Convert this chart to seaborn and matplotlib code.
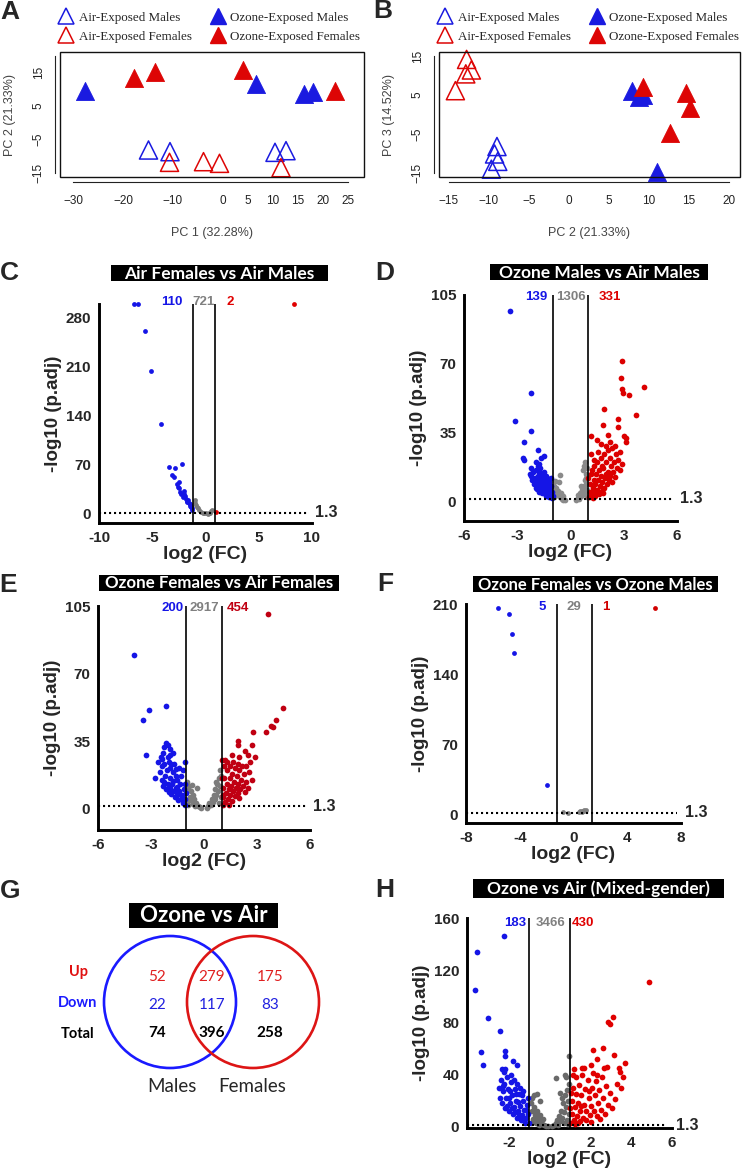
import matplotlib
matplotlib.use("Agg")
import matplotlib.pyplot as plt
from matplotlib.patches import Rectangle, Circle
from matplotlib.lines import Line2D
import seaborn as sns

sns.set_style("white")
plt.rcParams["font.family"] = ["Liberation Sans", "DejaVu Sans"]

# ---------------- PCA data (panel A: PC1 vs PC2, panel B: PC2 vs PC3) ----------------
a_air_m_x = [-14.9, -10.6, 10.4, 12.6]
a_air_m_y = [-8.2, -8.7, -8.9, -8.4]
a_air_f_x = [-10.7, -3.9, -0.7, 11.6]
a_air_f_y = [-11.9, -11.7, -12.2, -13.5]
a_oz_m_x = [-27.6, 6.6, 16.1, 17.9]
a_oz_m_y = [9.5, 11.5, 8.5, 9.3]
a_oz_f_x = [-17.8, -13.6, 3.9, 22.4]
a_oz_f_y = [13.3, 15.1, 15.7, 9.5]

b_air_m_x = [-9.0, -9.3, -8.9, -9.7]
b_air_m_y = [-8.2, -10.1, -12.0, -14.0]
b_air_f_x = [-12.8, -12.2, -12.9, -14.2]
b_air_f_y = [14.1, 11.4, 10.4, 6.1]
b_oz_m_x = [7.9, 8.8, 9.3, 11.0]
b_oz_m_y = [5.9, 4.6, 4.9, -14.7]
b_oz_f_x = [9.3, 14.7, 15.1, 12.6]
b_oz_f_y = [7.1, 5.4, 1.6, -4.8]

group_labels = ["Air-Exposed Males", "Air-Exposed Females",
                "Ozone-Exposed Males", "Ozone-Exposed Females"]

# ---------------- Volcano data: (log2FC, -log10 p.adj) ----------------
c_down = [(-6.7, 300), (-6.3, 300), (-5.65, 261), (-5.1, 204), (-4.15, 128), (-3.4, 67), (-2.9, 65),
          (-2.2, 71), (-3.1, 56), (-2.95, 53), (-2.7, 43), (-2.6, 39), (-2.45, 37), (-2.35, 32),
          (-2.0, 33), (-2.15, 24), (-1.8, 22), (-1.7, 17), (-1.5, 14), (-1.35, 10), (-1.25, 6),
          (-2.5, 45), (-2.3, 28), (-1.9, 26), (-1.6, 20), (-1.45, 12), (-1.3, 8), (-2.05, 29),
          (-1.75, 18), (-1.55, 16), (-1.4, 11)]
c_ns = [(-1.0, 20), (-0.85, 13), (-0.7, 8), (-0.4, 3), (-0.1, 1.5), (0.4, 2), (0.55, 4), (0.2, 0.5),
        (-0.95, 16), (-0.6, 5), (-0.25, 2), (0.05, 1), (0.3, 1.5), (0.65, 6), (-0.8, 10)]
c_up = [(8.3, 300), (0.95, 3)]
c_counts = [110, 721, 2]

d_down = [(-3.4, 97), (-2.2, 55), (-3.1, 41), (-2.25, 36), (-2.6, 30), (-1.85, 26), (-2.7, 22),
          (-2.6, 21), (-1.5, 23), (-1.65, 22), (-1.95, 20), (-1.8, 19), (-2.2, 13),
          (-2.1, 15), (-2.0, 12), (-1.95, 16), (-1.9, 10), (-1.85, 13), (-1.8, 8), (-1.75, 15),
          (-1.7, 11), (-1.65, 6), (-1.6, 13), (-1.55, 9), (-1.5, 4), (-1.45, 11), (-1.4, 7),
          (-1.35, 3), (-1.3, 9), (-1.25, 5), (-1.2, 2), (-1.15, 7), (-1.1, 3.5), (-1.05, 1.8),
          (-2.05, 9), (-1.9, 6.5), (-1.7, 17), (-1.6, 4.5), (-1.5, 15), (-1.4, 13), (-1.3, 12),
          (-1.2, 10), (-1.1, 8), (-1.05, 5), (-1.95, 7), (-1.8, 11.5), (-1.65, 9.5), (-1.55, 12),
          (-1.45, 5.5), (-1.35, 8), (-1.25, 7), (-1.15, 4.5), (-2.2, 17), (-2.3, 14), (-1.75, 5),
          (-1.6, 8), (-1.4, 2.5), (-1.12, 12), (-1.0, 2.5), (-2.15, 11), (-1.85, 18)]
d_ns = [(-0.6, 13.5), (-0.85, 10.5), (-0.65, 9.7), (-0.95, 8), (-0.9, 5), (-0.8, 7), (-0.75, 3),
        (-0.7, 5.5), (-0.6, 2), (-0.55, 4), (-0.5, 1), (-0.45, 2.5), (-0.4, 0.8), (-0.3, 0.5),
        (-0.95, 2), (-0.85, 3.5), (0.3, 0.5), (0.4, 1.5), (0.45, 3), (0.5, 1), (0.55, 4), (0.6, 2.5),
        (0.65, 6), (0.7, 4), (0.75, 8), (0.8, 11), (0.8, 20), (0.78, 18), (0.7, 16), (0.85, 14),
        (0.9, 9), (0.95, 6), (0.85, 3), (0.92, 17), (0.6, 8), (0.9, 12), (0.95, 2)]
d_up = [(2.9, 71.6), (2.85, 63), (2.9, 57), (2.95, 55), (3.3, 54), (4.15, 58), (3.7, 44), (1.9, 47),
        (1.85, 39), (2.65, 42), (2.7, 38), (3.0, 33), (3.15, 32), (3.1, 30), (1.15, 33), (2.1, 34),
        (2.2, 30), (2.5, 28), (2.35, 27), (1.7, 29), (2.0, 28), (1.5, 31), (2.55, 24), (2.8, 25),
        (1.05, 2), (1.1, 5), (1.1, 9), (1.15, 14), (1.2, 3), (1.25, 7), (1.3, 11), (1.3, 18),
        (1.35, 4.5), (1.4, 9), (1.45, 14), (1.5, 6), (1.5, 20), (1.55, 11), (1.6, 3.5), (1.6, 16),
        (1.65, 8), (1.7, 13), (1.7, 22), (1.75, 5.5), (1.8, 10), (1.85, 17), (1.9, 7), (1.9, 24),
        (1.95, 12), (2.0, 20), (2.05, 9), (2.1, 15), (2.15, 11), (2.2, 22), (2.25, 13), (2.3, 18),
        (2.4, 15), (2.45, 20), (2.5, 12.5), (2.6, 17), (2.7, 21), (2.8, 16), (2.9, 19), (1.2, 16),
        (1.35, 21), (1.0, 12), (1.25, 1.5), (1.4, 2.5), (1.15, 24), (1.55, 25), (1.75, 18),
        (2.0, 14), (1.85, 4.5), (2.1, 26), (2.35, 10)]
d_counts = [139, 1306, 331]

e_down = [(-3.95, 79.5), (-2.15, 53), (-3.1, 51), (-3.45, 46), (-3.3, 28), (-2.15, 34), (-2.05, 33),
          (-2.25, 32), (-1.95, 31), (-1.9, 28), (-2.3, 29), (-2.4, 26), (-2.25, 23), (-1.85, 23),
          (-1.07, 24), (-1.6, 20.5), (-2.75, 16), (-2.05, 27), (-1.75, 29),
          (-2.5, 19), (-2.4, 15), (-2.35, 22), (-2.3, 12), (-2.2, 17), (-2.15, 10), (-2.1, 20),
          (-2.05, 13), (-2.0, 8.5), (-1.95, 16), (-1.9, 11), (-1.85, 7.5), (-1.8, 13), (-1.75, 19),
          (-1.7, 9), (-1.65, 6), (-1.6, 11), (-1.55, 15), (-1.5, 7), (-1.45, 4.5), (-1.4, 9),
          (-1.35, 13), (-1.3, 5), (-1.25, 7), (-1.2, 3), (-1.15, 10), (-1.1, 5), (-1.05, 2),
          (-1.0, 8), (-1.9, 21), (-1.6, 17), (-1.3, 17), (-1.1, 13), (-1.4, 21), (-2.0, 24),
          (-1.7, 23), (-1.2, 20), (-2.6, 24), (-2.45, 27), (-1.5, 11.5), (-1.75, 14.5), (-2.25, 14)]
e_ns = [(-0.95, 14), (-0.9, 10), (-0.85, 12), (-0.8, 6), (-0.75, 9), (-0.7, 4), (-0.65, 7),
        (-0.6, 2.5), (-0.55, 5), (-0.5, 1.5), (-0.45, 3), (-0.4, 11), (-0.35, 1.5), (-0.25, 0.8),
        (-0.15, 0.5), (0.15, 0.5), (0.25, 1.2), (0.3, 3), (0.4, 2), (0.45, 5), (0.5, 3.5), (0.55, 7),
        (0.6, 5), (0.65, 10), (0.7, 7), (0.75, 13), (0.8, 9), (0.85, 16), (0.9, 12), (0.95, 17),
        (0.95, 6), (0.85, 3), (-0.95, 4), (-0.9, 2), (0.7, 14), (0.9, 20), (-0.7, 12.5)]
e_up = [(3.6, 101), (4.45, 52), (4.1, 46), (3.8, 43), (3.9, 42.5), (2.8, 39.5), (3.5, 39.5),
        (1.9, 35), (1.9, 33), (2.7, 33), (1.6, 28), (2.0, 27), (2.5, 28), (2.9, 27), (1.0, 25),
        (2.3, 30), (1.3, 24), (2.6, 24),
        (1.05, 2), (1.1, 6), (1.1, 11), (1.15, 16), (1.2, 3.5), (1.25, 8), (1.3, 13), (1.3, 20),
        (1.35, 5), (1.4, 10), (1.45, 16), (1.5, 7), (1.5, 22), (1.55, 12), (1.6, 4), (1.6, 18),
        (1.65, 9), (1.7, 14), (1.75, 6.5), (1.75, 21), (1.8, 11), (1.85, 17), (1.9, 8), (1.95, 13),
        (2.0, 20), (2.05, 10), (2.1, 15), (2.2, 12), (2.25, 18), (2.3, 8.5), (2.4, 14), (2.5, 11),
        (2.55, 19), (2.7, 15), (1.0, 16), (1.15, 22), (1.4, 1.8), (1.2, 25), (1.65, 24), (1.9, 23),
        (2.15, 22), (1.05, 7), (2.0, 5.5), (2.4, 22)]
e_counts = [200, 2917, 454]

f_down = [(-5.6, 206), (-4.8, 200), (-4.55, 180), (-4.45, 161), (-2.0, 29)]
f_ns = [(-0.75, 2), (-0.4, 1.5), (0.4, 2.5), (0.5, 3), (0.65, 3.5), (0.75, 4), (0.9, 4.5),
        (0.6, 2), (0.8, 3)]
f_up = [(6.1, 206)]
f_counts = [5, 29, 1]

h_down = [(-2.25, 146), (-3.58, 134), (-3.67, 105), (-3.05, 83), (-2.43, 73), (-3.4, 57), (-3.3, 47),
          (-2.2, 58), (-2.2, 54), (-1.8, 50), (-1.63, 47), (-2.35, 44), (-2.25, 42),
          (-2.5, 30), (-2.45, 22), (-2.4, 36), (-2.35, 18), (-2.3, 27), (-2.25, 33), (-2.2, 14),
          (-2.15, 22), (-2.1, 38), (-2.05, 29), (-2.0, 12), (-1.95, 18), (-1.9, 34), (-1.85, 24),
          (-1.8, 9.5), (-1.75, 15), (-1.7, 29), (-1.65, 20), (-1.6, 7), (-1.55, 12), (-1.5, 25),
          (-1.45, 16), (-1.4, 5), (-1.35, 9), (-1.3, 20), (-1.25, 13), (-1.2, 3), (-1.15, 7),
          (-1.1, 17), (-1.05, 10), (-1.0, 2.5), (-1.05, 22), (-1.3, 27), (-1.6, 33), (-1.9, 40),
          (-2.2, 44), (-1.45, 30), (-1.75, 36), (-2.0, 22), (-1.85, 14), (-1.5, 9), (-1.25, 5),
          (-1.7, 11), (-2.3, 31), (-1.15, 13), (-1.35, 24), (-1.55, 19), (-2.1, 16), (-1.95, 27),
          (-1.65, 25)]
h_ns = [(0.95, 54), (0.3, 37), (0.75, 40), (0.8, 38), (-0.8, 24.5), (-0.65, 25), (-0.5, 20),
        (-0.95, 18), (-0.9, 12), (-0.85, 6), (-0.8, 15), (-0.75, 9), (-0.7, 3), (-0.65, 12),
        (-0.6, 6), (-0.55, 1.5), (-0.5, 9), (-0.45, 4), (-0.4, 2), (-0.35, 6), (-0.3, 1),
        (-0.2, 0.5), (-0.1, 0.3), (-0.95, 3), (-0.9, 22), (0.1, 0.3), (0.2, 1), (0.3, 2.5),
        (0.35, 5), (0.4, 1.5), (0.45, 8), (0.5, 4), (0.55, 12), (0.6, 7), (0.65, 18), (0.7, 11),
        (0.75, 24), (0.8, 15), (0.85, 28), (0.9, 20), (0.95, 33), (0.95, 10), (0.85, 5), (0.7, 3),
        (0.6, 22), (0.9, 2), (0.5, 26)]
h_up = [(4.87, 111), (3.1, 84), (2.85, 80), (2.95, 79), (2.6, 60), (2.1, 59), (3.15, 55), (3.7, 49),
        (3.4, 45), (3.45, 42), (2.3, 52), (2.0, 47), (2.8, 46), (1.6, 45),
        (1.05, 3), (1.1, 10), (1.1, 20), (1.15, 30), (1.2, 5), (1.25, 15), (1.3, 25), (1.3, 38),
        (1.35, 8), (1.4, 18), (1.45, 32), (1.5, 4), (1.5, 12), (1.55, 24), (1.6, 40), (1.65, 7),
        (1.7, 17), (1.75, 29), (1.8, 5), (1.8, 12), (1.85, 36), (1.9, 22), (1.95, 9), (2.0, 16),
        (2.05, 30), (2.1, 41), (2.15, 12), (2.2, 24), (2.25, 35), (2.3, 8), (2.35, 18), (2.4, 28),
        (2.5, 13), (2.55, 38), (2.6, 22), (2.7, 10), (2.75, 31), (2.85, 17), (2.95, 26), (3.05, 14),
        (3.2, 21), (3.3, 33), (3.5, 30), (1.0, 14), (1.05, 26), (1.2, 44), (1.4, 2.5), (1.7, 45),
        (2.0, 3.5), (2.45, 6), (1.55, 16), (1.9, 27), (2.3, 40), (2.65, 45), (1.25, 1.8), (3.6, 38),
        (1.15, 40)]
h_counts = [183, 3466, 430]

# ---------------- Venn data (panel G) ----------------
venn_up = [52, 279, 175]
venn_down = [22, 117, 83]
venn_total = [74, 396, 258]
venn_sets = ["Males", "Females"]

# ---------------- figure ----------------
W, H = 742, 1170
fig = plt.figure(figsize=(W / 100, H / 100), dpi=100)
fig.patch.set_facecolor("white")


def add_ax(l, t, r, b):
    return fig.add_axes([l / W, 1 - b / H, (r - l) / W, (b - t) / H])


def fig_text(x, y, s, **kw):
    fig.text(x / W, 1 - y / H, s, **kw)


def title_box(l, t, r, b, s, size):
    fig.add_artist(Rectangle((l / W, 1 - b / H), (r - l) / W, (b - t) / H,
                             transform=fig.transFigure, color="black", lw=0))
    fig_text((l + r) / 2, (t + b) / 2 + 0.5, s, ha="center", va="center", color="white",
             fontsize=size, fontweight="bold", family=["Lato", "DejaVu Sans"])


BLUE = "#1515e6"
PCA_BLUE = "#1a1ae0"
PCA_RED = "#dd0505"

# panel letters
for lab, x, y in [("A", 10, 12), ("B", 383, 11), ("C", 9, 273), ("D", 385, 273),
                  ("E", 8, 585), ("F", 385, 584), ("G", 10, 891), ("H", 385, 890)]:
    fig_text(x, y, lab, ha="center", va="center", fontsize=19, fontweight="bold")


def pca_panel(ax, groups, xlim, ylim, xb, yb, xticks, xlabels, yticks, ylabels, xlabel, ylabel):
    for xs, ys, col, filled in groups:
        if filled:
            sns.scatterplot(x=xs, y=ys, ax=ax, marker="^", s=170, color=col, edgecolor=col,
                            linewidth=0.6, legend=False, clip_on=False)
        else:
            sns.scatterplot(x=xs, y=ys, ax=ax, marker="^", s=170, facecolor="none",
                            edgecolor=col, linewidth=1.1, legend=False, clip_on=False)
    ax.set_xlim(xlim)
    ax.set_ylim(ylim)
    for s in ["top", "right"]:
        ax.spines[s].set_visible(False)
    for s in ["left", "bottom"]:
        ax.spines[s].set_position(("outward", 3.6))
        ax.spines[s].set_linewidth(0.8)
        ax.spines[s].set_color("#222222")
    ax.spines["bottom"].set_bounds(*xb)
    ax.spines["left"].set_bounds(*yb)
    ax.add_patch(Rectangle((0, 0), 1, 1, transform=ax.transAxes, fill=False, lw=1.0,
                           ec="#111111", clip_on=False))
    ax.set_xticks(xticks)
    ax.set_xticklabels(xlabels)
    ax.set_yticks(yticks)
    ax.set_yticklabels(ylabels, rotation=90, va="center")
    ax.tick_params(axis="both", direction="out", length=3.5, width=0.8, labelsize=8.5,
                   colors="#222222")
    ax.tick_params(axis="x", pad=6)
    ax.tick_params(axis="y", pad=4)
    ax.set_xlabel(xlabel, fontsize=9, color="#444444", labelpad=14)
    ax.set_ylabel(ylabel, fontsize=9, color="#444444", labelpad=12)
    handles = [Line2D([], [], ls="none", marker="^", markersize=12, mfc="none", mec=PCA_BLUE, mew=1.1),
               Line2D([], [], ls="none", marker="^", markersize=12, mfc="none", mec=PCA_RED, mew=1.1),
               Line2D([], [], ls="none", marker="^", markersize=12, mfc=PCA_BLUE, mec=PCA_BLUE),
               Line2D([], [], ls="none", marker="^", markersize=12, mfc=PCA_RED, mec=PCA_RED)]
    ax.legend(handles, group_labels, ncol=2, loc="lower left",
              bbox_to_anchor=(-0.005, 1.075), frameon=False, borderpad=0, borderaxespad=0,
              handlelength=1.2, handletextpad=0.35, columnspacing=1.4, labelspacing=0.5,
              prop={"family": ["Liberation Serif", "DejaVu Serif"], "size": 9.4})


axA = add_ax(60, 52, 364, 177)
pca_panel(axA,
          [(a_air_m_x, a_air_m_y, PCA_BLUE, False), (a_air_f_x, a_air_f_y, PCA_RED, False),
           (a_oz_m_x, a_oz_m_y, PCA_BLUE, True), (a_oz_f_x, a_oz_f_y, PCA_RED, True)],
          (-32.6, 28.2), (-16.3, 21.2), (-30, 25), (-15, 20),
          [-30, -25, -20, -15, -10, -5, 0, 5, 10, 15, 20, 25],
          ["\u221230", "", "\u221220", "", "\u221210", "", "0", "5", "10", "15", "20", "25"],
          [-15, -10, -5, 0, 5, 10, 15, 20], ["\u221215", "", "\u22125", "", "5", "", "15", ""],
          "PC 1 (32.28%)", "PC 2 (21.33%)")

axB = add_ax(439, 52, 740, 177)
pca_panel(axB,
          [(b_air_m_x, b_air_m_y, PCA_BLUE, False), (b_air_f_x, b_air_f_y, PCA_RED, False),
           (b_oz_m_x, b_oz_m_y, PCA_BLUE, True), (b_oz_f_x, b_oz_f_y, PCA_RED, True)],
          (-16.25, 21.4), (-16.0, 16.0), (-15, 20), (-15, 15),
          [-15, -10, -5, 0, 5, 10, 15, 20],
          ["\u221215", "\u221210", "\u22125", "0", "5", "10", "15", "20"],
          [-15, -10, -5, 0, 5, 10, 15], ["\u221215", "", "\u22125", "", "5", "", "15"],
          "PC 2 (21.33%)", "PC 3 (14.52%)")


def volcano(ax, down, ns, up, counts, xlim, ylim, xticks, yticks, vlines, count_x, count_yf,
            red, gray, label_xf, hline_end, size=11):
    for pts, col in ((ns, gray), (down, BLUE), (up, red)):
        sns.scatterplot(x=[p[0] for p in pts], y=[p[1] for p in pts], ax=ax, color=col, s=size,
                        linewidth=0, legend=False, clip_on=False, zorder=3)
    ax.set_xlim(xlim)
    ax.set_ylim(ylim)
    for v in vlines:
        ax.axvline(v, color="black", lw=1.2, zorder=4)
    ax.axhline(1.3, xmin=0, xmax=hline_end, color="black", lw=1.5, ls=(0, (1, 1.4)), zorder=5)
    ax.text(label_xf, 1.3, "1.3", transform=ax.get_yaxis_transform(), ha="left", va="center",
            fontsize=11.5, fontweight="bold")
    for s in ["top", "right"]:
        ax.spines[s].set_visible(False)
    for s in ["left", "bottom"]:
        ax.spines[s].set_linewidth(2.1)
        ax.spines[s].set_color("black")
    ax.set_xticks(xticks)
    ax.set_yticks(yticks)
    ax.set_xticklabels([f"{t:g}" for t in xticks])
    ax.set_yticklabels([f"{t:g}" for t in yticks])
    ax.tick_params(direction="out", length=3.5, width=2.0, labelsize=11, pad=2)
    for lab in ax.get_xticklabels() + ax.get_yticklabels():
        lab.set_fontweight("bold")
    ax.set_xlabel("log2 (FC)", fontsize=14, fontweight="bold", labelpad=1)
    ax.set_ylabel("-log10 (p.adj)", fontsize=13.5, fontweight="bold", labelpad=3)
    for n, x, col in zip(counts, count_x, (BLUE, "#808080", red)):
        ax.text(x, count_yf, str(n), transform=ax.get_xaxis_transform(), ha="center",
                va="center", color=col, fontsize=9.5, fontweight="bold")
    ax.set_facecolor("none")


axC = add_ax(99, 304, 312, 523)
volcano(axC, c_down, c_ns, c_up, c_counts, (-10, 10), (-13, 300), [-10, -5, 0, 5, 10],
        [0, 70, 140, 210, 280], (-1.15, 0.85), (-3.2, -0.2, 2.3), 1.01, "#e00000", "#7a7a7a",
        1.015, 0.98, size=12)
title_box(111, 265, 328, 281, "Air Females vs Air Males", 12.5)

axD = add_ax(464, 295, 677, 521)
volcano(axD, d_down, d_ns, d_up, d_counts, (-6, 6), (-10, 105), [-6, -3, 0, 3, 6],
        [0, 35, 70, 105], (-1, 1), (-1.95, 0.0, 2.2), 0.99, "#dc0000", "#8a8a8a", 1.012, 0.98,
        size=17)
title_box(490, 264, 708, 280, "Ozone Males vs Air Males", 12.5)

axE = add_ax(98, 606, 310, 830)
volcano(axE, e_down, e_ns, e_up, e_counts, (-6, 6), (-11, 105), [-6, -3, 0, 3, 6],
        [0, 35, 70, 105], (-1, 1), (-1.8, 0.0, 1.9), 0.99, "#c00012", "#7c7c7c", 1.015, 0.98,
        size=17)
title_box(99, 575, 339, 591, "Ozone Females vs Air Females", 12.2)

axF = add_ax(466, 604, 681, 823)
volcano(axF, f_down, f_ns, f_up, f_counts, (-8, 8), (-9, 210), [-8, -4, 0, 4, 8],
        [0, 70, 140, 210], (-1.25, 1.35), (-2.3, 0.0, 2.4), 0.986, "#d00000", "#808080", 1.02,
        0.98, size=12)
title_box(473, 576, 718, 592, "Ozone Females vs Ozone Males", 12.0)

axH = add_ax(467, 918, 672, 1128)
volcano(axH, h_down, h_ns, h_up, h_counts, (-4.07, 6), (-1, 160), [-2, 0, 2, 4, 6],
        [0, 40, 80, 120, 160], (-1, 1), (-1.68, 0.05, 1.62), 0.976, "#e00000", "#6a6a6a", 1.02,
        0.97, size=17)
title_box(473, 879, 724, 898, "Ozone vs Air (Mixed-gender)", 12.5)

# ---------------- Venn (panel G) ----------------
title_box(129, 903, 278, 928, "Ozone vs Air", 16)
axG = add_ax(0, 930, 371, 1170)
axG.set_xlim(0, 371)
axG.set_ylim(1170, 930)
axG.axis("off")
axG.add_patch(Circle((170, 1002), 66, fill=False, ec="#1a1aff", lw=1.9))
axG.add_patch(Circle((253, 1002), 66, fill=False, ec="#dd1515", lw=1.9))
col_x = [157, 212, 270]
row_y = [977, 1005, 1033]
venn_font = ["Lato", "DejaVu Sans"]
for lab, y, col in [("Up", 972, "#e01010"), ("Down", 1003, "#1a1aff"), ("Total", 1034, "black")]:
    axG.text(78, y, lab, ha="center", va="center", color=col, fontsize=10.5, fontweight="bold",
             family=venn_font)
for i in range(3):
    axG.text(col_x[i], row_y[0], str(venn_up[i]), ha="center", va="center", color="#e02020",
             fontsize=11, family=venn_font)
    axG.text(col_x[i], row_y[1], str(venn_down[i]), ha="center", va="center", color="#2020e0",
             fontsize=11, family=venn_font)
    axG.text(col_x[i], row_y[2], str(venn_total[i]), ha="center", va="center", color="black",
             fontsize=11, fontweight="bold", family=venn_font)
axG.text(172, 1086, venn_sets[0], ha="center", va="center", fontsize=13.5, family=venn_font)
axG.text(252, 1086, venn_sets[1], ha="center", va="center", fontsize=13.5, family=venn_font)

fig.savefig("out.png", dpi=100, facecolor="white")
